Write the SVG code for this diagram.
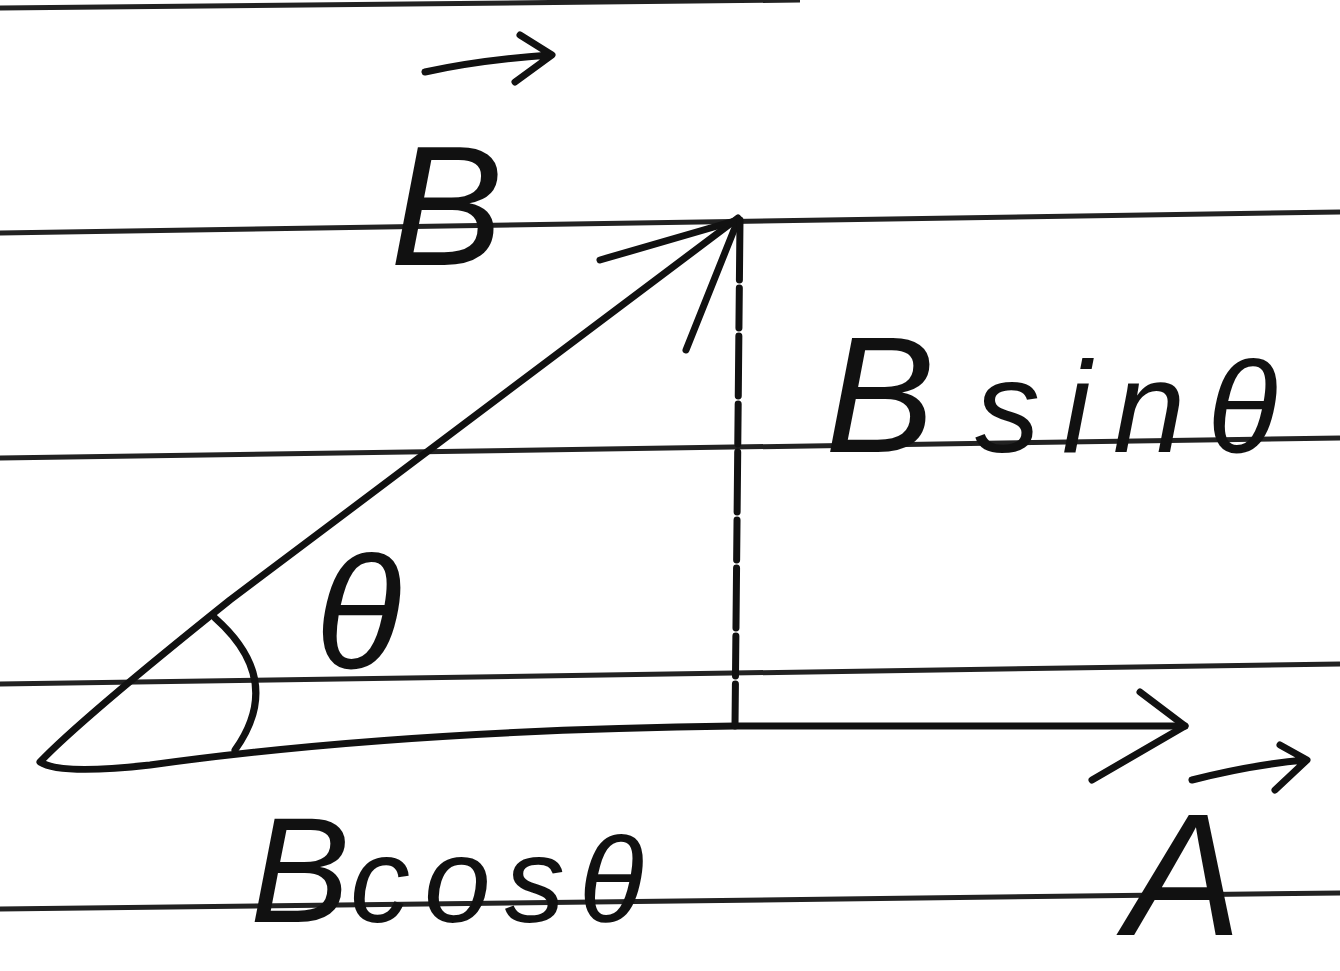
<svg xmlns="http://www.w3.org/2000/svg" width="1340" height="971" viewBox="0 0 1340 971">
<style>
.rule{stroke:#222;stroke-width:5;fill:none}
.ink{stroke:#111;stroke-width:7;fill:none;stroke-linecap:round;stroke-linejoin:round}
.lbl{font-family:"Liberation Sans",sans-serif;font-style:italic;fill:#111}
</style>
<rect width="1340" height="971" fill="#fff"/>
<g id="paper-lines">
<path class="rule" d="M0 8 L800 0"/>
<path class="rule" d="M0 233 L1340 212"/>
<path class="rule" d="M0 458 L1340 438"/>
<path class="rule" d="M0 684 L1340 664"/>
<path class="rule" d="M0 909 L1340 893"/>
</g>
<g id="connectors">
<path class="ink" d="M738 218 L230 600 Q80 720 40 762 Q60 775 150 765 Q400 730 735 726 L1185 726"/>
<path class="ink" d="M600 260 L738 220 L686 350"/>
<path class="ink" d="M1140 692 L1185 726 L1092 780"/>
<path class="ink" d="M740 220 L735 726" stroke-dasharray="60 8 40 8"/>
<path class="ink" d="M215 618 Q285 680 235 750"/>
</g>
<g id="label-B">
<text class="lbl" x="390" y="265" font-size="170">B</text>
<path class="ink" d="M425 72 Q480 60 550 55 M520 35 L552 55 L515 82"/>
</g>
<g id="label-Bsin">
<text class="lbl" x="825" y="452" font-size="165">B<tspan font-size="130" dx="40" letter-spacing="22">sinθ</tspan></text>
</g>
<g id="label-theta">
<text class="lbl" x="315" y="668" font-size="160">θ</text>
</g>
<g id="label-Bcos">
<text class="lbl" x="250" y="922" font-size="150">B<tspan font-size="120" letter-spacing="14">cosθ</tspan></text>
</g>
<g id="label-A">
<text class="lbl" x="1125" y="935" font-size="175">A</text>
<path class="ink" d="M1192 780 Q1250 765 1305 760 M1280 745 L1307 760 L1275 790"/>
</g>
</svg>
